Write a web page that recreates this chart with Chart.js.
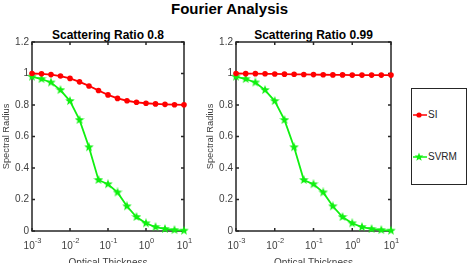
<!DOCTYPE html>
<html><head><meta charset="utf-8">
<script src="https://cdn.jsdelivr.net/npm/chart.js@4"></script>
<style>
html,body{margin:0;padding:0;background:#fff;overflow:hidden;width:471px;height:263px;font-family:"Liberation Sans",Arial,sans-serif}
#wrap{position:relative;width:471px;height:263px;overflow:hidden}
canvas{position:absolute;top:0}
.ttl{position:absolute;text-align:center;font-weight:bold;color:#000;white-space:nowrap}
#legend{position:absolute;left:411px;top:88px;width:56px;height:97px;box-sizing:border-box;border:1.5px solid #262626;background:#fff}
.ent{position:absolute;left:1px;height:10px;font-size:10px;line-height:10px;color:#262626}
.ent svg{position:absolute;left:0;top:0}
.ent span{position:absolute;left:15px;top:0}
</style></head>
<body><div id="wrap">
<div class="ttl" style="left:0;width:459px;top:0;font-size:15px;line-height:18px">Fourier Analysis</div>
<div class="ttl" id="st1" style="left:32px;width:152px;top:28px;font-size:12px;line-height:14px"></div>
<div class="ttl" id="st2" style="left:236px;width:155px;top:28px;font-size:12px;line-height:14px"></div>
<canvas id="c1" width="205" height="280" style="left:0"></canvas>
<canvas id="c2" width="207" height="280" style="left:204px"></canvas>
<div id="legend">
  <div class="ent" style="top:21px"><svg width="14" height="10"><line x1="0" y1="5" x2="14" y2="5" stroke="#ff0000" stroke-width="1.5"/><circle cx="6" cy="5" r="2.6" fill="#ff0000"/></svg><span id="l1"></span></div>
  <div class="ent" style="top:63px"><svg width="14" height="10"><line x1="0" y1="5" x2="14" y2="5" stroke="#10f010" stroke-width="1.5"/><polygon id="starpoly" fill="#10f010"/></svg><span id="l2"></span></div>
</div>
</div>
<script>
const mainTitle = "Fourier Analysis";
const subTitles = ["Scattering Ratio 0.8", "Scattering Ratio 0.99"];
const seriesNames = ["SI", "SVRM"];
const xLabel = "Optical Thickness";
const yLabel = "Spectral Radius";
const opticalThickness = [0.001, 0.00178, 0.00316, 0.00562, 0.01, 0.0178, 0.0316, 0.0562, 0.1, 0.178, 0.316, 0.562, 1, 1.78, 3.16, 5.62, 10];
const si_08 = [1.0, 0.998, 0.993, 0.984, 0.969, 0.947, 0.921, 0.892, 0.864, 0.842, 0.827, 0.817, 0.811, 0.807, 0.804, 0.802, 0.801];
const svrm_08 = [0.98, 0.965, 0.943, 0.895, 0.825, 0.705, 0.532, 0.324, 0.297, 0.245, 0.157, 0.089, 0.049, 0.025, 0.013, 0.006, 0.002];
const si_099 = [1.0, 0.999, 0.999, 0.998, 0.997, 0.996, 0.995, 0.994, 0.993, 0.992, 0.991, 0.991, 0.99, 0.99, 0.99, 0.99, 0.99];
const svrm_099 = [0.98, 0.965, 0.943, 0.895, 0.825, 0.705, 0.532, 0.324, 0.297, 0.245, 0.157, 0.089, 0.049, 0.025, 0.013, 0.006, 0.002];
const xTicks = [0.001, 0.01, 0.1, 1, 10];
const xTickBase = "10";
const xTickExponents = ["-3", "-2", "-1", "0", "1"];
const yTicks = [0, 0.2, 0.4, 0.6, 0.8, 1, 1.2];
const yTickLabels = ["0", "0.2", "0.4", "0.6", "0.8", "1", "1.2"];

document.getElementById('st1').textContent = subTitles[0];
document.getElementById('st2').textContent = subTitles[1];
document.getElementById('l1').textContent = seriesNames[0];
document.getElementById('l2').textContent = seriesNames[1];

const RED = '#ff0000', GREEN = '#10f010', AX = '#262626', TXT = '#404040';
const FONT = "'Liberation Sans', Arial, sans-serif";

function starPts(cx, cy, R, r) {
  const p = [];
  for (let i = 0; i < 10; i++) {
    const rad = i % 2 ? r : R, a = -Math.PI / 2 + i * Math.PI / 5;
    p.push([cx + rad * Math.cos(a), cy + rad * Math.sin(a)]);
  }
  return p;
}
document.getElementById('starpoly').setAttribute('points', starPts(6, 5, 4.5, 1.9).map(q => q.join(',')).join(' '));
function starImg(color, size) {
  const c = document.createElement('canvas'); c.width = c.height = size;
  const g = c.getContext('2d'); g.fillStyle = color; g.beginPath();
  starPts(size / 2, size / 2, size / 2, size * 0.21).forEach((q, i) => i ? g.lineTo(q[0], q[1]) : g.moveTo(q[0], q[1]));
  g.closePath(); g.fill(); return c;
}
const star = starImg(GREEN, 10);

const boxPlugin = {
  id: 'box',
  beforeDatasetsDraw(chart) {
    const { ctx, chartArea: a, scales: { x, y } } = chart;
    ctx.save();
    ctx.strokeStyle = AX; ctx.lineWidth = 1.5;
    ctx.strokeRect(a.left, a.top, a.right - a.left, a.bottom - a.top);
    ctx.beginPath();
    x.ticks.forEach(t => { const p = x.getPixelForValue(t.value);
      ctx.moveTo(p, a.bottom); ctx.lineTo(p, a.bottom - 3); ctx.moveTo(p, a.top); ctx.lineTo(p, a.top + 3); });
    y.ticks.forEach(t => { const p = y.getPixelForValue(t.value);
      ctx.moveTo(a.left, p); ctx.lineTo(a.left + 3, p); ctx.moveTo(a.right, p); ctx.lineTo(a.right - 3, p); });
    ctx.stroke();
    // power-of-ten tick labels at the x scale's tick positions
    ctx.fillStyle = TXT; ctx.textBaseline = 'alphabetic'; ctx.textAlign = 'left';
    x.ticks.forEach((t, i) => {
      const p = x.getPixelForValue(t.value);
      ctx.font = "10px " + FONT; const wb = ctx.measureText(xTickBase).width;
      ctx.font = "7.5px " + FONT; const we = ctx.measureText(xTickExponents[i]).width;
      const x0 = p - (wb + we) / 2 + 0.5;
      ctx.font = "10px " + FONT; ctx.fillText(xTickBase, x0, a.bottom + 17.5);
      ctx.font = "7.5px " + FONT; ctx.fillText(xTickExponents[i], x0 + wb, a.bottom + 11.5);
    });
    ctx.restore();
  }
};

function makeChart(id, si, svrm, padRight) {
  new Chart(document.getElementById(id), {
    type: 'line',
    data: {
      labels: opticalThickness,
      datasets: [
        { label: seriesNames[0], data: opticalThickness.map((v, i) => ({ x: v, y: si[i] })), borderColor: RED, backgroundColor: RED,
          borderWidth: 1.8, pointStyle: 'circle', pointRadius: 2.8, pointBorderWidth: 0, clip: false, tension: 0 },
        { label: seriesNames[1], data: opticalThickness.map((v, i) => ({ x: v, y: svrm[i] })), borderColor: GREEN, backgroundColor: GREEN,
          borderWidth: 1.8, pointStyle: star, pointRadius: 5, clip: false, tension: 0 }
      ]
    },
    options: {
      responsive: false, animation: false, devicePixelRatio: 1,
      layout: { padding: { top: 42, right: padRight, left: 0, bottom: 0 } },
      plugins: { legend: { display: false }, tooltip: { enabled: false }, title: { display: false } },
      scales: {
        x: {
          type: 'logarithmic', min: 0.001, max: 10,
          afterBuildTicks: s => { s.ticks = xTicks.map(v => ({ value: v })); },
          afterFit: s => { s.height = 49; },
          grid: { display: false, drawTicks: false }, border: { display: false },
          ticks: { display: false },
          title: { display: true, text: xLabel, color: TXT, font: { family: FONT, size: 10 }, padding: { top: 0, bottom: 11 } }
        },
        y: {
          min: 0, max: 1.2,
          afterBuildTicks: s => { s.ticks = yTicks.map(v => ({ value: v })); },
          afterFit: s => { s.width = 32; },
          grid: { display: false, drawTicks: false }, border: { display: false },
          ticks: { padding: 3, color: TXT, font: { family: FONT, size: 10 }, callback: (v, i) => yTickLabels[i] },
          title: { display: true, text: yLabel, color: TXT, font: { family: FONT, size: 9.3 }, padding: { top: 0.5, bottom: 0 } }
        }
      }
    },
    plugins: [boxPlugin]
  });
}
makeChart('c1', si_08, svrm_08, 21);
makeChart('c2', si_099, svrm_099, 20);
</script>
</body></html>
